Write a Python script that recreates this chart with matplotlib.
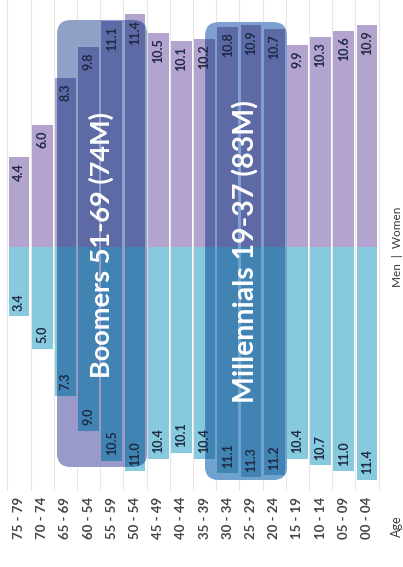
import numpy as np
import matplotlib.pyplot as plt
from matplotlib.patches import FancyBboxPatch, Rectangle

plt.rcParams['font.family'] = ['Lato', 'DejaVu Sans']

# age groups, oldest first (label text as in the source, incl. "60 - 54")
ages = ['75 - 79', '70 - 74', '65 - 69', '60 - 54', '55 - 59', '50 - 54',
        '45 - 49', '40 - 44', '35 - 39', '30 - 34', '25 - 29', '20 - 24',
        '15 - 19', '10 - 14', '05 - 09', '00 - 04']
# millions
women = [4.4, 6.0, 8.3, 9.8, 11.1, 11.4, 10.5, 10.1, 10.2, 10.8, 10.9, 10.7,
         9.9, 10.3, 10.6, 10.9]
men = [3.4, 5.0, 7.3, 9.0, 10.5, 11.0, 10.4, 10.1, 10.4, 11.1, 11.3, 11.2,
       10.4, 10.7, 11.0, 11.4]

groups = ['Boomers 51-69 (74M)', 'Millennials 19-37 (83M)']

w_light, m_light = '#b3a3cf', '#88cadd'
w_dark, m_dark = '#5d6aa6', '#4184b3'

fig = plt.figure(figsize=(4.03, 5.67), dpi=100)
ax = fig.add_axes([0, 0, 1, 1])
ax.set_xlim(-0.82, 16.55)
ax.set_ylim(-15.69, 12.11)
ax.axis('off')

x = np.arange(len(ages))
ax.vlines(np.arange(-0.5, len(ages), 1), -11.9, 12.2, color='#e6e6e6', lw=0.8, zorder=0)

ax.bar(x, women, 0.9, color=w_light, zorder=2)
ax.bar(x, -np.array(men), 0.9, color=m_light, zorder=2)

# highlight boxes: (x0, x1, y0, y1, top fill, bottom fill, text pos, size)
asp = 23.2 / 20.4
boxes = [(1.64, 5.52, -10.78, 11.13, '#8fa1c6', '#9a9aca', (3.55, 0.1), 19.5),
         (8.02, 11.55, -11.42, 11.03, '#7f9fd0', '#6fa2cd', (9.78, -0.2), 20.5)]
r = 0.6
for (x0, x1, y0, y1, ctop, cbot, tpos, fs), label in zip(boxes, groups):
    box = FancyBboxPatch((x0 + r, y0 + r * asp), (x1 - x0) - 2 * r, (y1 - y0) - 2 * r * asp,
                         boxstyle=f"round,pad={r},rounding_size={r}",
                         mutation_aspect=asp, fc=ctop, ec='none', zorder=1)
    ax.add_patch(box)
    low = Rectangle((x0 - 1, y0 - 1), x1 - x0 + 2, -y0 + 1, fc=cbot, ec='none', zorder=1.1)
    ax.add_patch(low)
    low.set_clip_path(box)
    for b in ax.bar(x, women, 0.9, color=w_dark, zorder=3):
        b.set_clip_path(box)
    for b in ax.bar(x, -np.array(men), 0.9, color=m_dark, zorder=3):
        b.set_clip_path(box)
    ax.text(tpos[0], tpos[1], label, rotation=90, ha='center', va='center',
            fontsize=fs, fontweight='bold', color='white', zorder=6)

for i in x:
    ax.text(i, women[i] - 0.28, f'{women[i]:.1f}', rotation=90, ha='center', va='top',
            fontsize=9, fontweight='bold', color='#1f2a44', zorder=5)
    ax.text(i, -men[i] + 0.28, f'{men[i]:.1f}', rotation=90, ha='center', va='bottom',
            fontsize=9, fontweight='bold', color='#1f2a44', zorder=5)
    ax.text(i, -12.25, ages[i], rotation=90, ha='center', va='top',
            fontsize=9.5, fontweight='bold', color='#454545')

ax.text(16.3, 0.0, 'Men  |  Women', rotation=90, ha='center', va='center',
        fontsize=8.5, color='#3a3a3a')
ax.text(16.3, -13.7, 'Age', rotation=90, ha='center', va='center',
        fontsize=9, color='#3a3a3a')

fig.savefig('out.png', dpi=100)
